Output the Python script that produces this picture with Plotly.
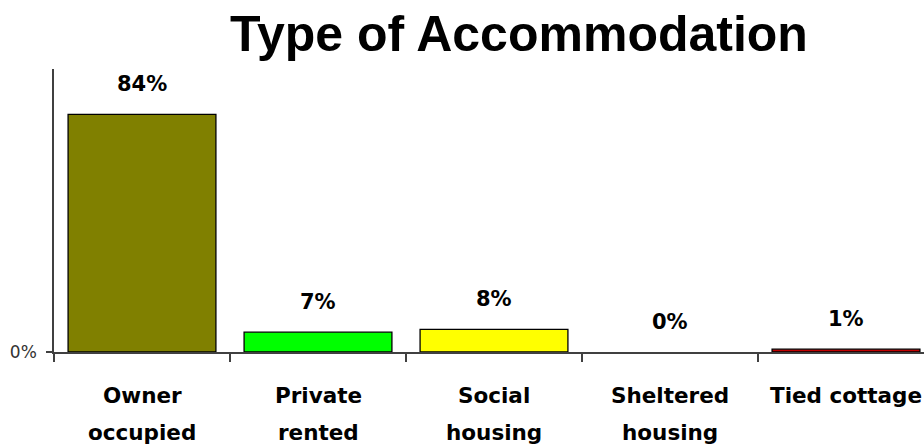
import plotly.graph_objects as go

categories = ["Owner<br>occupied", "Private<br>rented", "Social<br>housing", "Sheltered<br>housing", "Tied cottage"]
values = [84, 7, 8, 0, 1]
labels = ["84%", "7%", "8%", "0%", "1%"]
colors = ["#808000", "#00FF00", "#FFFF00", "rgba(0,0,0,0)", "#C00000"]
outline_widths = [1.3, 1.3, 1.3, 0, 1.3]

W, H = 924, 446
ml, mr, mt, mb = 54, 0, 69, 94
cat_w = 176.0
plot_w = W - ml - mr
x_hi = -0.5 + plot_w / cat_w
FONT = "DejaVu Sans, Verdana, sans-serif"

fig = go.Figure()
fig.add_trace(go.Bar(
    x=categories, y=values,
    marker=dict(color=colors, line=dict(color="#000000", width=outline_widths)),
    width=0.84, hoverinfo="skip",
))
# value labels above bars
for c, v, t in zip(categories, values, labels):
    fig.add_annotation(x=c, y=v, text=f"<b>{t}</b>", showarrow=False,
                       yanchor="middle", yshift=30,
                       font=dict(family=FONT, size=21, color="#000000"))
# category labels (two lines with wide spacing)
for c in categories:
    for k, line in enumerate(c.split("<br>")):
        fig.add_annotation(x=c, y=0, text=f"<b>{line}</b>", showarrow=False,
                           yanchor="middle", yshift=-43 - 37 * k,
                           font=dict(family=FONT, size=21.5, color="#000000"))

fig.update_layout(
    width=W, height=H,
    margin=dict(l=ml, r=mr, t=mt, b=mb, pad=0),
    paper_bgcolor="white", plot_bgcolor="white",
    showlegend=False,
    title=dict(text="<b>Type of Accommodation</b>", x=519 / W, xanchor="center",
               y=1 - 33 / H, yanchor="middle", yref="container",
               font=dict(family="Liberation Sans, Arial", size=50, color="#000000")),
    xaxis=dict(
        type="category", categoryarray=categories, categoryorder="array",
        tickson="boundaries", showticklabels=False,
        range=[-0.5, x_hi], showgrid=False, zeroline=False,
        showline=True, linecolor="#404040", linewidth=1.5,
        ticks="outside", ticklen=8, tickcolor="#404040", tickwidth=1.5,
        automargin=False,
    ),
    yaxis=dict(
        range=[0, 100], tickvals=[0], ticktext=["0%"], showgrid=False, zeroline=False,
        showline=True, linecolor="#404040", linewidth=1.5,
        ticks="outside", ticklen=6, tickcolor="#404040", tickwidth=1.5,
        tickfont=dict(family=FONT, size=17, color="#333333"),
        ticklabelstandoff=6, automargin=False,
    ),
    bargap=0.16,
)
fig.write_html("out.html", config={"displayModeBar": False},
               post_script="document.body.style.margin='0';")
